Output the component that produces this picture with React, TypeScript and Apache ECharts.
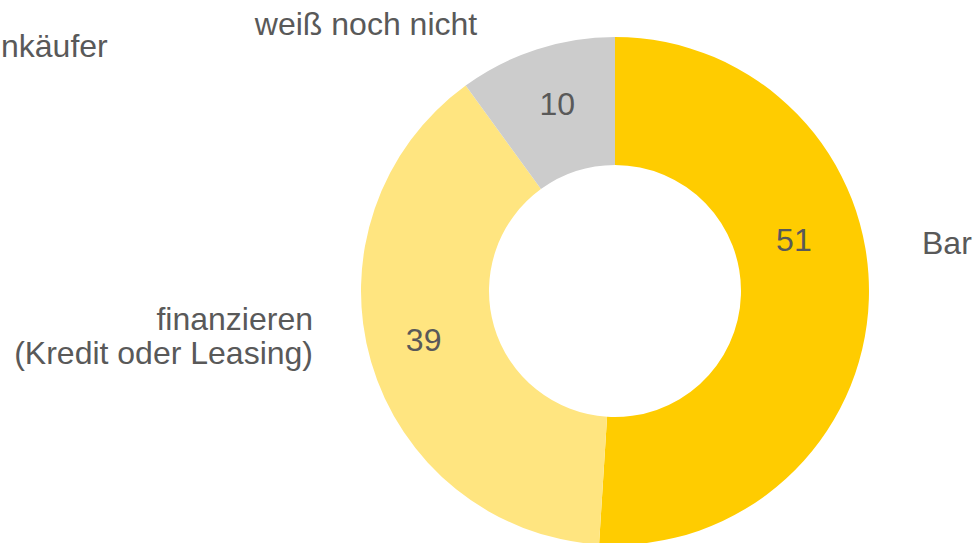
import React, { useEffect, useRef } from "react";
import * as echarts from "echarts";

const categories = ["Bar", "finanzieren\n(Kredit oder Leasing)", "weiß noch nicht"];
const values = [51, 39, 10];
const colors = ["#FFCC00", "#FFE580", "#CCCCCC"];
const partialTitle = "nkäufer";

const valueLabelOffsets = [[-14, -57], [-6, -5], [2, -3]];
const nameLabelLayout = [
  { x: 922, y: 243, align: "left" },
  { x: 313, y: 336, align: "right" },
  { x: 366, y: 24, align: "center" },
];

const FONT = "'Liberation Sans', Arial, sans-serif";
const TEXT_COLOR = "#595959";
const FS = 32;

export default function App() {
  const ref = useRef<HTMLDivElement>(null);
  useEffect(() => {
    document.body.style.margin = "0";
    if (!ref.current) return;
    const chart = echarts.init(ref.current, null, { renderer: "svg" });
    const graphics: any[] = categories.map((name, i) => ({
      type: "text",
      x: nameLabelLayout[i].x,
      y: nameLabelLayout[i].y,
      style: {
        text: name,
        fontFamily: FONT,
        fontSize: FS,
        lineHeight: 34,
        fill: TEXT_COLOR,
        align: nameLabelLayout[i].align,
        verticalAlign: "middle",
      },
    }));
    graphics.push({
      type: "text",
      x: 1,
      y: 46,
      style: {
        text: partialTitle,
        fontFamily: FONT,
        fontSize: FS,
        fill: TEXT_COLOR,
        align: "left",
        verticalAlign: "middle",
      },
    });
    chart.setOption({
      animation: false,
      backgroundColor: "#ffffff",
      graphic: graphics,
      series: [
        {
          type: "pie",
          center: [615, 291],
          radius: [126, 254],
          startAngle: 90,
          clockwise: true,
          silent: true,
          label: {
            show: true,
            position: "inside",
            formatter: "{c}",
            fontFamily: FONT,
            fontSize: FS,
            color: TEXT_COLOR,
          },
          labelLine: { show: false },
          itemStyle: { borderWidth: 0 },
          data: values.map((v, i) => ({
            value: v,
            name: categories[i],
            itemStyle: { color: colors[i] },
            label: { offset: valueLabelOffsets[i] },
          })),
        },
      ],
    });
    return () => chart.dispose();
  }, []);
  return <div ref={ref} style={{ width: 976, height: 543 }} />;
}
